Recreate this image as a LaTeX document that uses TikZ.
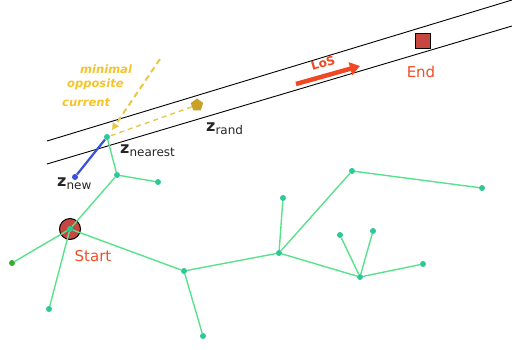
\documentclass[tikz,border=0pt]{standalone}
\usepackage{fontspec}
\setmainfont{DejaVu Sans}
\usetikzlibrary{shapes.geometric,arrows.meta}
\definecolor{edgegreen}{RGB}{88,226,140}
\definecolor{nodegreen}{RGB}{44,201,150}
\definecolor{labelred}{RGB}{240,80,40}
\definecolor{goalred}{RGB}{200,70,65}
\definecolor{goldish}{RGB}{200,162,40}
\definecolor{curyellow}{RGB}{246,196,40}
\definecolor{dashyellow}{RGB}{232,200,70}
\definecolor{newblue}{RGB}{60,80,220}
\tikzset{
  treenode/.style={circle,fill=nodegreen,inner sep=0pt,minimum size=6pt},
  treeedge/.style={draw=edgegreen,line width=1.4pt},
  wall/.style={draw=black,line width=0.9pt},
  zlabel/.style={font=\fontsize{16}{16}\selectfont,text=black!85,inner sep=0pt},
  placelabel/.style={font=\fontsize{15}{15}\selectfont,text=labelred,inner sep=0pt},
  curlabel/.style={font=\fontsize{11.5}{11.5}\selectfont\itshape\bfseries,text=curyellow,inner sep=0pt,anchor=west}
}
\newcommand{\zsub}[1]{\textbf{z}\raisebox{-0.35ex}{\fontsize{12}{12}\selectfont #1}}
\begin{document}
\begin{tikzpicture}[x=1pt,y=-1pt]
\useasboundingbox (0,0) rectangle (512,349);

% corridor walls
\coordinate (wa1) at (47,141);
\coordinate (wa2) at (512,0);
\coordinate (wb1) at (47,164);
\coordinate (wb2) at (512,26);
\draw[wall] (wa1) -- (wa2);
\draw[wall] (wb1) -- (wb2);

% tree vertices
\node[treenode] (nr) at (107,137) {};
\node[treenode] (a1) at (117,175) {};
\node[treenode] (a2) at (158,182) {};
\node[circle,draw=black,line width=1pt,fill=goalred,minimum size=21pt,inner sep=0pt] (st) at (70,229) {};
\node[treenode] (s0) at (70,229) {};
\node[circle,fill=green!60!black!80,inner sep=0pt,minimum size=6pt] (b1) at (12,263) {};
\node[treenode] (b2) at (49,309) {};
\node[treenode] (c1) at (184,271) {};
\node[treenode] (c2) at (203,336) {};
\node[treenode] (d1) at (279,253) {};
\node[treenode] (d2) at (283,198) {};
\node[treenode] (e1) at (352,171) {};
\node[treenode] (e2) at (482,188) {};
\node[treenode] (f1) at (360,277) {};
\node[treenode] (f2) at (340,235) {};
\node[treenode] (f3) at (373,231) {};
\node[treenode] (f4) at (423,264) {};

% tree edges
\draw[treeedge] (nr) -- (a1);
\draw[treeedge] (a1) -- (a2);
\draw[treeedge] (a1) -- (s0);
\draw[treeedge] (s0) -- (b1);
\draw[treeedge] (s0) -- (b2);
\draw[treeedge] (s0) -- (c1);
\draw[treeedge] (c1) -- (c2);
\draw[treeedge] (c1) -- (d1);
\draw[treeedge] (d1) -- (d2);
\draw[treeedge] (d1) -- (e1);
\draw[treeedge] (e1) -- (e2);
\draw[treeedge] (d1) -- (f1);
\draw[treeedge] (f1) -- (f2);
\draw[treeedge] (f1) -- (f3);
\draw[treeedge] (f1) -- (f4);

% new vertex and its extension
\node[circle,fill=newblue,inner sep=0pt,minimum size=6pt] (nw) at (75,177) {};
\draw[newblue,line width=2.2pt] (nw) -- (nr);

% random sample
\node[regular polygon,regular polygon sides=5,fill=goldish,inner sep=0pt,minimum size=13pt] (rd) at (197,105) {};
\draw[dashyellow,line width=1.4pt,dash pattern=on 5pt off 4pt] (rd) -- (nr);

% minimal opposite current direction
\coordinate (cu) at (160,59);
\draw[dashyellow,line width=2pt,dash pattern=on 6pt off 4pt,-{Triangle[length=7pt,width=7pt]}] (cu) -- (112,130);
\node[curlabel] (t1) at (80,69) {minimal};
\node[curlabel] (t2) at (67,84) {opposite};
\node[curlabel] (t3) at (62,103) {current};

% goal
\node[rectangle,draw=black,line width=1.1pt,fill=goalred,minimum size=15pt,inner sep=0pt] (gl) at (423,41) {};
\node[placelabel] (gt) at (421,72) {End};
\node[placelabel] (sl) at (93,256) {Start};

% line of sight arrow
\coordinate (la) at (296,84);
\coordinate (lb) at (360,66);
\draw[labelred!90!red,line width=4.5pt,-{Triangle[length=10pt,width=13pt]}] (la) -- (lb);
\node[font=\fontsize{12}{12}\selectfont\bfseries,text=labelred!90!red,rotate=16,inner sep=0pt] (ls) at (323,63) {LoS};

% vertex labels
\node[zlabel,anchor=west] (zr) at (206,129) {\zsub{rand}};
\node[zlabel,anchor=west] (zn) at (120,151) {\zsub{nearest}};
\node[zlabel,anchor=west] (zw) at (57,184) {\zsub{new}};
\end{tikzpicture}
\end{document}
